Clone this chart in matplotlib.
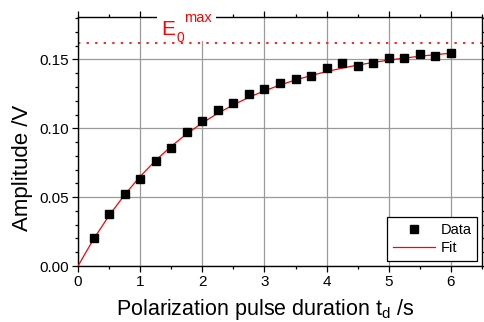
import matplotlib
matplotlib.use("Agg")
import matplotlib.pyplot as plt
from matplotlib.ticker import MultipleLocator, FormatStrFormatter
from matplotlib.patches import Rectangle

plt.rcParams["font.family"] = ["Liberation Sans", "DejaVu Sans"]
plt.rcParams["mathtext.fontset"] = "custom"
plt.rcParams["mathtext.rm"] = "Liberation Sans"
plt.rcParams["mathtext.it"] = "Liberation Sans"

# ── Data ──────────────────────────────────────────────────────────────────────
t_data = [0.25, 0.5, 0.75, 1.0, 1.25, 1.5, 1.75, 2.0, 2.25, 2.5, 2.75, 3.0,
          3.25, 3.5, 3.75, 4.0, 4.25, 4.5, 4.75, 5.0, 5.25, 5.5, 5.75, 6.0]
amp_data = [0.0201, 0.0377, 0.0520, 0.0633, 0.0759, 0.0856, 0.0973, 0.1056,
            0.1130, 0.1183, 0.1249, 0.1283, 0.1331, 0.1355, 0.1377, 0.1435,
            0.1471, 0.1452, 0.1471, 0.1509, 0.1514, 0.1538, 0.1527, 0.1548]

t_fit = [0.0, 0.25, 0.5, 0.75, 1.0, 1.25, 1.5, 1.75, 2.0, 2.25, 2.5, 2.75,
         3.0, 3.25, 3.5, 3.75, 4.0, 4.25, 4.5, 4.75, 5.0, 5.25, 5.5, 5.75, 6.0]
amp_fit = [0.0, 0.0195, 0.0366, 0.0517, 0.0650, 0.0767, 0.0869, 0.0960,
           0.1039, 0.1109, 0.1170, 0.1225, 0.1272, 0.1314, 0.1351, 0.1383,
           0.1412, 0.1437, 0.1459, 0.1478, 0.1495, 0.1510, 0.1523, 0.1535,
           0.1545]

E0_MAX = 0.162

# ── Figure ────────────────────────────────────────────────────────────────────
fig = plt.figure(figsize=(4.85, 3.22), dpi=100)
ax = fig.add_axes([0.1608, 0.1739, 0.8330, 0.7741])

ax.set_xlim(0, 6.5)
ax.set_ylim(0, 0.181)

ax.grid(True, which="major", color="#9a9a9a", linewidth=0.9, zorder=0)
ax.set_axisbelow(True)

ax.axhline(E0_MAX, color="#ff2020", linestyle=(0, (1.2, 3.2)), linewidth=1.4,
           zorder=2)
ax.plot(t_fit, amp_fit, color="#ff0000", linewidth=0.9, label="Fit", zorder=3)
ax.plot(t_data, amp_data, linestyle="none", marker="s", markersize=5.4,
        color="black", label="Data", zorder=4)

# ticks on all sides, pointing out
ax.xaxis.set_major_locator(MultipleLocator(1))
ax.xaxis.set_minor_locator(MultipleLocator(0.5))
ax.yaxis.set_major_locator(MultipleLocator(0.05))
ax.yaxis.set_minor_locator(MultipleLocator(0.01))
ax.yaxis.set_major_formatter(FormatStrFormatter("%.2f"))
ax.tick_params(which="both", direction="out", top=True, right=True,
               labelsize=11, width=0.9, colors="black")
ax.tick_params(which="major", length=4.5, pad=2)
ax.tick_params(which="minor", length=2.5)
for s in ax.spines.values():
    s.set_linewidth(1.0)

ax.set_xlabel(r"Polarization pulse duration t$_\mathregular{d}$ /s",
              fontsize=15.5)
ax.xaxis.set_label_coords(0.463, -0.125)
ax.set_ylabel("Amplitude /V", fontsize=16)
ax.yaxis.set_label_coords(-0.112, 0.395)

# E0^max label breaking the top spine
ax.add_patch(Rectangle((1.271, 0.1636), 0.95, 0.03, transform=ax.transData,
                       facecolor="white", edgecolor="none", clip_on=False,
                       zorder=5))
ax.text(1.345, 0.1677, "E", color="#ff0000", fontsize=15,
        ha="left", va="baseline", zorder=6, clip_on=False)
ax.text(1.58, 0.1626, "0", color="#ff0000", fontsize=10,
        ha="left", va="baseline", zorder=6, clip_on=False)
ax.text(1.70, 0.1771, "max", color="#ff0000", fontsize=10.5,
        ha="left", va="baseline", zorder=6, clip_on=False)

handles, labels = ax.get_legend_handles_labels()
leg = ax.legend(handles[::-1], labels[::-1], loc="lower right",
                bbox_to_anchor=(0.988, 0.02), fontsize=10.5, frameon=True,
                fancybox=False, edgecolor="black", framealpha=1,
                handlelength=2.9, borderpad=0.4, labelspacing=0.3,
                handletextpad=0.35, borderaxespad=0)
leg.get_frame().set_linewidth(0.9)
leg.set_zorder(7)

fig.savefig("out.png", dpi=100, facecolor="white")
